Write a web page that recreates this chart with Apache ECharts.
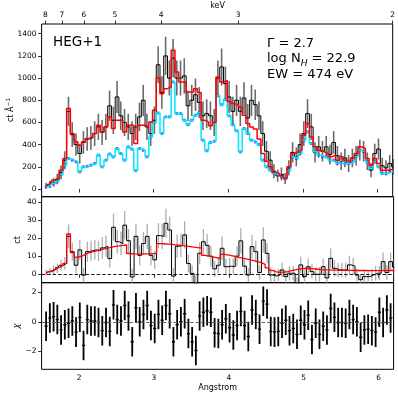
<!DOCTYPE html>
<html><head><meta charset="utf-8">
<script src="https://cdn.jsdelivr.net/npm/echarts@6/dist/echarts.min.js"></script>
<style>html,body{margin:0;padding:0;background:#fff}#c{width:398px;height:396px}</style>
</head><body><div id="c"></div>
<script>
// ---- data ----
const lam = [1.56,1.61,1.66,1.71,1.76,1.81,1.86,1.91,1.96,2.01,
2.06,2.11,2.16,2.21,2.26,2.31,2.36,2.41,2.46,2.51,
2.56,2.61,2.66,2.71,2.76,2.81,2.86,2.91,2.96,3.01,
3.06,3.11,3.16,3.21,3.26,3.31,3.36,3.41,3.46,3.51,
3.56,3.61,3.66,3.71,3.76,3.81,3.86,3.91,3.96,4.01,
4.06,4.11,4.16,4.21,4.26,4.31,4.36,4.41,4.46,4.51,
4.56,4.61,4.66,4.71,4.76,4.81,4.86,4.91,4.96,5.01,
5.06,5.11,5.16,5.21,5.26,5.31,5.36,5.41,5.46,5.51,
5.56,5.61,5.66,5.71,5.76,5.81,5.86,5.91,5.96,6.01,
6.06,6.11,6.16,6.21];
const dataTop = [30,40,60,90,150,260,700,490,400,320,
420,450,460,500,560,510,560,750,620,830,
660,600,560,500,560,650,800,560,500,620,
1120,870,1200,1000,1180,1000,1000,1020,750,800,
850,780,660,680,660,600,1000,1100,950,830,
700,800,700,820,640,800,760,660,500,340,
260,160,120,135,95,190,330,290,400,500,
680,560,330,380,340,380,310,420,300,250,
280,230,280,300,350,340,250,170,320,360,
210,190,230,200];
const errTop = [27,32,39,47,61,81,132,111,100,89,
102,106,107,112,118,113,118,137,124,144,
128,122,118,112,118,127,141,118,112,124,
167,147,173,158,172,158,158,160,137,141,
146,140,128,130,128,122,158,166,154,144,
132,141,132,143,126,141,138,128,112,92,
81,63,55,58,49,69,91,85,100,112,
130,118,91,97,92,97,88,102,87,79,
84,76,84,87,94,92,79,65,89,95,
72,69,76,71];
const modelTop = [36,45,80,90,170,275,725,500,425,395,
425,455,470,500,575,515,560,650,545,620,
620,515,575,575,410,575,575,560,605,710,
1000,860,905,920,1250,1055,965,965,875,875,
905,870,620,605,570,600,1010,965,980,790,
770,760,740,665,590,560,540,450,320,250,
200,150,140,120,95,200,320,335,350,485,
590,470,380,350,335,320,290,305,260,290,
260,245,275,320,380,365,275,215,275,230,
170,170,175,180];
const contTop = [20,25,50,70,130,215,275,260,245,155,
200,205,215,230,305,200,260,315,290,365,
320,260,380,360,165,365,350,290,470,600,
685,500,650,650,965,680,680,620,580,620,
665,690,440,345,420,430,840,760,810,660,
580,525,335,545,500,440,425,400,260,200,
170,140,125,110,90,170,290,275,320,440,
515,410,335,305,290,290,260,260,230,260,
230,230,245,290,350,335,245,185,245,200,
140,140,155,160];
const dataMid = [1,1.5,2.4,3,5,6,21,12.5,5,13.5,
-0.5,12.5,13,13.5,13,14.6,15.5,8.7,26,18,
17,27.2,18.6,-1.5,21,10.5,17,21,10.5,8,
21.4,21,28.2,24.5,-1,15.5,16,21.8,6,0.5,
-5,11.6,18,16,10,3,5,14.4,4.2,4.5,
4.2,10,18.5,4.5,-0.4,15.3,12.5,1,19,11.6,
-0.4,-1,-0.4,2.4,-1.3,0.6,0.6,-5,5.2,-1.3,
4.2,1.5,0,0,4.2,-2,8.8,3.3,2.4,2.4,
2.4,5.2,4.5,-0.4,-3,-1.3,-1.3,-0.4,0.6,0.6,
7,1,7,4];
const errMid = [1.5,2,2.5,2.5,3,3.5,6.5,5,4.5,5.5,
4,5.5,5.5,5.5,5.5,6,6,5,7.5,6.5,
6.5,7.8,6.5,4.5,7,5.5,6.5,7,5.5,5,
7,7,8,7.5,4.5,6.5,6.5,7.5,5,4.5,
4,6,7,6.5,5.5,4.5,4.5,6.5,4.5,4.5,
4.5,5.5,7,4.5,4,6.5,6,4,7,5.5,
4,3.5,3.5,4,3.5,4,4,3.5,4.5,3.5,
4.5,4,4,4,4.5,3.5,5.5,4.5,4,4,
4,5,4.5,3.5,3,3.5,3.5,3.5,4,4,
5,4,5,4.5];
const modelMid = [0.3,1.5,2.5,3.7,4.8,6,22.3,12,9.5,10,
11,12,12.5,13,13.5,14,14.5,15,15.5,15.7,
16,16.2,11.5,11.3,11.2,11.2,11.3,11.3,11.4,11.5,
17,16.9,16.7,16.5,16.3,16.1,15.9,15.6,15.3,15,
14.8,14.5,10.5,10,9.6,9.2,8.8,11,10.7,10.3,
9.9,9.4,9,8.5,8,7.5,7,6.5,5.5,3.5,
2.2,1.3,1.1,1.2,1.5,2,2.5,2.9,3.2,3.3,
3.2,3,2.8,2.6,2.5,2.4,2.3,2.3,2.2,2.2,
2.2,2.2,2.2,2.1,2.1,2.1,2,2,2,2,
2,2.1,2.1,2.1];
const chi = [-0.3,0.25,0.35,0.15,-0.55,-0.2,-0.1,0.05,-0.7,0.3,
-1.6,0.15,0.05,0.05,-0.05,-0.6,-0.05,-0.65,1.15,0.15,
0.05,1.1,0.4,-1.35,0.95,0.0,0.5,1.1,-0.25,-0.45,
0.5,0.1,1.1,0.55,-1.35,-0.2,0.0,0.55,-0.8,-1.35,
-1.95,0.4,0.65,0.75,0.65,-0.75,-0.8,-0.2,0.2,-0.4,
-0.9,-0.25,0.7,-0.25,-1.0,0.8,0.5,-0.5,1.4,1.2,
-0.65,-0.7,-0.65,-0.1,0.1,-0.6,-0.45,-0.85,0.1,-0.2,
0.45,-1.2,-0.1,-0.85,-0.3,-0.55,0.9,0.3,-0.05,-0.05,
-0.1,0.5,0.15,0.0,-1.05,-0.55,-0.5,-0.6,-0.7,0.65,
-0.05,0.8,0.25,0.3];
const xTicks = [2,3,4,5,6];
const keVTicks = [8,7,6,5,4,3,2];
const yTicksTop = [0,200,400,600,800,1000,1200,1400];
const yTicksMid = [0,10,20,30,40];
const yTicksRes = [-2,0,2];
const HC = 12.398; // keV*Angstrom

// ---- layout ----
const F = 'DejaVu Sans';
const GL = 41.6, GR = 398 - 393.6;
const grids = [
  {left: GL, right: GR, top: 24, height: 172.7},
  {left: GL, right: GR, top: 196.7, height: 86},
  {left: GL, right: GR, top: 282.7, height: 86.6}
].map(g => Object.assign(g, {show: true, borderColor: '#000', borderWidth: 1, backgroundColor: 'transparent'}));

const minusFmt = v => (v < 0 ? '\u2212' + (-v) : '' + v);
const tickStyle = {show: true, length: 3.5, lineStyle: {color: '#000', width: 0.8}};
const lblStyle = {fontFamily: F, fontSize: 7.5, color: '#000'};

function xAx(g) {
  return {gridIndex: g, type: 'value', min: 1.5, max: 6.2,
    axisLine: {show: false}, splitLine: {show: false},
    axisTick: Object.assign({customValues: xTicks}, tickStyle),
    axisLabel: Object.assign({show: g === 2, customValues: xTicks, margin: 5}, lblStyle)};
}
function yAx(g, mn, mx, ticks) {
  return {gridIndex: g, type: 'value', min: mn, max: mx,
    axisLine: {show: false}, splitLine: {show: false},
    axisTick: Object.assign({customValues: ticks}, tickStyle),
    axisLabel: Object.assign({customValues: ticks, margin: 5, formatter: minusFmt}, lblStyle)};
}
const xAxes = [xAx(0), xAx(1), xAx(2), {
  gridIndex: 0, type: 'value', position: 'top', min: 1.5, max: 6.2,
  axisLine: {show: false}, splitLine: {show: false},
  axisTick: Object.assign({customValues: keVTicks.map(e => HC / e)}, tickStyle),
  axisLabel: Object.assign({customValues: keVTicks.map(e => HC / e), margin: 5,
    formatter: v => '' + Math.round(HC / v)}, lblStyle)
}];
const yAxes = [yAx(0, -69.4, 1487.8, yTicksTop), yAx(1, -4.65, 42.93, yTicksMid), yAx(2, -3.22, 2.65, yTicksRes)];

function errSeries(xi, yi, vals, errs, color, w, z) {
  return {type: 'custom', xAxisIndex: xi, yAxisIndex: yi, clip: true, z: z, silent: true,
    data: lam.map((x, i) => [x, vals[i], errs[i]]),
    renderItem: (p, api) => {
      const x = api.value(0), y = api.value(1), e = api.value(2);
      const a = api.coord([x, y - e]), b = api.coord([x, y + e]);
      return {type: 'line', shape: {x1: a[0], y1: a[1], x2: b[0], y2: b[1]},
        style: {stroke: color, lineWidth: w}};
    }};
}
function stepSeries(xi, yi, vals, color, w, z, extra) {
  return Object.assign({type: 'line', xAxisIndex: xi, yAxisIndex: yi, step: 'middle', symbol: 'none',
    z: z, silent: true, clip: true, data: lam.map((x, i) => [x, vals[i]]),
    lineStyle: {color: color, width: w}}, extra || {});
}

const series = [
  errSeries(0, 0, dataTop, errTop, 'rgba(70,70,70,0.8)', 1.6, 1),
  stepSeries(0, 0, dataTop, '#000', 1, 2),
  {type: 'scatter', xAxisIndex: 0, yAxisIndex: 0, z: 3, silent: true, symbol: 'rect', symbolSize: [2.6, 3],
    itemStyle: {color: '#3a3ae0'}, data: lam.map((x, i) => [x, contTop[i]])},
  stepSeries(0, 0, contTop, '#00e8ff', 1.5, 4),
  stepSeries(0, 0, modelTop, '#ff0000', 1.5, 5),

  errSeries(1, 1, dataMid, errMid, 'rgba(160,160,160,0.85)', 1.3, 1),
  stepSeries(1, 1, dataMid, '#000', 1, 2, {markLine: {silent: true, symbol: 'none', label: {show: false},
    lineStyle: {color: '#000', type: [3.5, 2], width: 0.9}, data: [{yAxis: 0}]}}),
  stepSeries(1, 1, modelMid, '#ff0000', 1.3, 5),

  {type: 'line', xAxisIndex: 2, yAxisIndex: 2, data: [], silent: true,
    markLine: {silent: true, symbol: 'none', label: {show: false},
      lineStyle: {color: '#555', type: [3.5, 2], width: 0.9}, data: [{yAxis: 0}]}},
  {type: 'custom', xAxisIndex: 2, yAxisIndex: 2, clip: true, z: 3, silent: true,
    data: lam.map((x, i) => [x, chi[i]]),
    renderItem: (p, api) => {
      const x = api.value(0), c = api.value(1);
      const a = api.coord([x, c - 1]), b = api.coord([x, c + 1]);
      const l = api.coord([x - 0.021, c]), r = api.coord([x + 0.021, c]);
      return {type: 'group', children: [
        {type: 'line', shape: {x1: a[0], y1: a[1], x2: b[0], y2: b[1]}, style: {stroke: '#000', lineWidth: 1.8}},
        {type: 'line', shape: {x1: l[0], y1: l[1], x2: r[0], y2: r[1]}, style: {stroke: '#000', lineWidth: 1.4}}
      ]};
    }}
];

const big = {fontFamily: F, fontSize: 13.5, fill: '#000'};
const graphic = [
  {type: 'text', x: 53, y: 42.5, style: Object.assign({text: 'HEG+1', textVerticalAlign: 'middle'}, big)},
  {type: 'text', x: 267, y: 43.3, style: Object.assign({text: '\u0393 = 2.7', textVerticalAlign: 'middle'}, {fontFamily: F, fontSize: 13, fill: '#000'})},
  {type: 'text', x: 267, y: 58.8, style: {text: '{m|log N}{s|H}{m| = 22.9}', textVerticalAlign: 'middle',
    rich: {m: {fontFamily: F, fontSize: 13, lineHeight: 14, verticalAlign: 'middle', fill: '#000'},
           s: {fontFamily: F, fontSize: 9, fontStyle: 'italic', lineHeight: 9, padding: [10, 0, 0, 0], verticalAlign: 'middle', fill: '#000'}}}},
  {type: 'text', x: 267, y: 74.3, style: {text: 'EW = 474 eV', textVerticalAlign: 'middle', fontFamily: F, fontSize: 13, fill: '#000'}},
  {type: 'text', x: 11, y: 110, rotation: Math.PI / 2, style: {text: '{a|ct \u00c5}{b|\u22121}', textAlign: 'center', textVerticalAlign: 'middle',
    rich: {a: {fontFamily: F, fontSize: 8, lineHeight: 10, verticalAlign: 'middle', fill: '#000'},
           b: {fontFamily: F, fontSize: 5.8, lineHeight: 6, padding: [0, 0, 5, 0], verticalAlign: 'middle', fill: '#000'}}}},
  {type: 'text', x: 18, y: 240, rotation: Math.PI / 2, style: {text: 'ct', textAlign: 'center', textVerticalAlign: 'middle', fontFamily: F, fontSize: 8, fill: '#000'}},
  {type: 'text', x: 17, y: 326, rotation: Math.PI / 2, style: {text: '\u03c7', textAlign: 'center', textVerticalAlign: 'middle', fontFamily: F, fontSize: 8.5, fontStyle: 'italic', fill: '#000'}},
  {type: 'text', x: 217.6, y: 388.3, style: {text: 'Angstrom', textAlign: 'center', textVerticalAlign: 'middle', fontFamily: F, fontSize: 8, fill: '#000'}},
  {type: 'text', x: 217.6, y: 5.8, style: {text: 'keV', textAlign: 'center', textVerticalAlign: 'middle', fontFamily: F, fontSize: 8, fill: '#000'}}
];

const chart = echarts.init(document.getElementById('c'), null, {renderer: 'canvas'});
chart.setOption({animation: false, backgroundColor: '#fff', grid: grids,
  xAxis: xAxes, yAxis: yAxes, series: series, graphic: graphic});
</script></body></html>
